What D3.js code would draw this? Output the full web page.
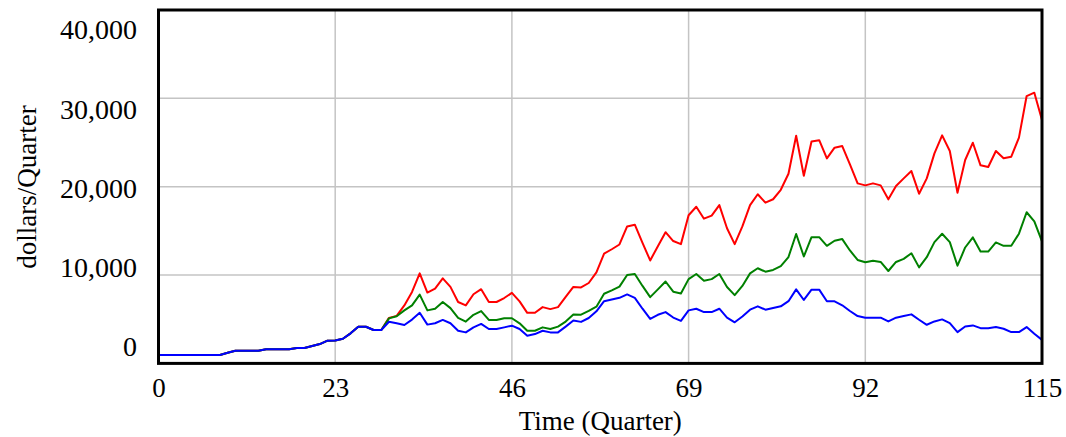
<!DOCTYPE html>
<html>
<head>
<meta charset="utf-8">
<script src="https://cdn.jsdelivr.net/npm/d3@7"></script>
<style>
  body { margin: 0; background: #fff; }
  text { font-family: "Liberation Serif", "Times New Roman", serif; }
</style>
</head>
<body>
<div id="chart"></div>
<script>
// quarters 0..115
const quarters = d3.range(0, 116);

// all three runs are identical until quarter 29
const early = [950, 950, 950, 950, 950, 950, 950, 950, 950, 1200,
    1430, 1430, 1430, 1430, 1590, 1590, 1590, 1590, 1740, 1740,
    1960, 2190, 2570, 2600, 2790, 3400, 4150, 4150, 3780, 3780];

const redValues = early.concat([
    5150, 5380, 6565, 8090, 10190, 8015, 8470, 9620, 8660, 6950,
    6565, 7825, 8400, 6950, 6950, 7400, 7980, 7020, 5725, 5725,
    6370, 6145, 6370, 7520, 8660, 8600, 9100, 10300,
    12420, 12920, 13460, 15500, 15700, 13650, 11650, 13270, 14850, 13850,
    13500, 16770, 17730, 16380, 16730, 17920, 15300, 13500, 15500, 17920,
    19150, 18190, 18580, 19650, 21460, 25770,
    21240, 25120, 25270, 23210, 24420, 24600, 22530, 20380, 20150, 20380,
    20150, 18570, 20080, 20940, 21770, 19210, 20940, 23770, 25810, 24040,
    19320, 23020, 24980, 22420, 22230, 24040, 23210, 23400, 25550, 30260,
    30640, 27550]);

const greenValues = early.concat([
    5100, 5340, 6000, 6565, 7790, 6000, 6180, 6950, 6260, 5150,
    4730, 5500, 5920, 4920, 4920, 5110, 5110, 4540, 3700, 3700,
    4080, 3890, 4160, 4730, 5530, 5520, 5940, 6420,
    7880, 8270, 8690, 10000, 10120, 8770, 7500, 8380, 9270, 8120,
    7920, 9540, 10120, 9350, 9540, 10120, 8650, 7730, 8770, 10190,
    10770, 10380, 10580, 11000, 12040, 14650,
    12100, 14290, 14290, 13310, 13880, 14070, 12780, 11710, 11440, 11630,
    11480, 10460, 11480, 11830, 12470, 10870, 12020, 13730, 14680, 13730,
    11060, 13120, 14260, 12660, 12660, 13690, 13310, 13310, 14680, 17110,
    16080, 13800]);

const blueValues = early.concat([
    4720, 4540, 4350, 4960, 5725, 4390, 4540, 4920, 4540, 3700,
    3510, 4080, 4470, 3890, 3890, 4080, 4270, 3890, 3130, 3320,
    3700, 3510, 3510, 4160, 4850, 4700, 5140, 5900,
    7040, 7230, 7420, 7810, 7420, 6190, 5040, 5500, 5810, 5190,
    4810, 6000, 6190, 5810, 5810, 6190, 5190, 4650, 5310, 6080,
    6460, 6080, 6270, 6460, 7040, 8380,
    7180, 8350, 8350, 7030, 7030, 6580, 5930, 5360, 5170, 5170,
    5170, 4750, 5170, 5360, 5550, 4940, 4370, 4750, 4980, 4560,
    3540, 4180, 4300, 3990, 3990, 4110, 3920, 3540, 3540, 4110,
    3350, 2660]);

const xTicks = [0, 23, 46, 69, 92, 115];
const yTicks = [0, 10000, 20000, 30000, 40000];

const width = 1066,
    height = 437;
const plot = {left: 158.5, right: 1042, top: 10, bottom: 363.4};

const svg = d3.select("#chart")
    .append("svg")
    .attr("width", width)
    .attr("height", height);

const xScale = d3.scaleLinear()
    .domain([0, 115])
    .range([plot.left, plot.right]);

const yScale = d3.scaleLinear()
    .domain([0, 40000])
    .range([plot.bottom, plot.top]);

// the value labels sit a bit inside the frame, like the original tool does
const yLabelScale = d3.scaleLinear()
    .domain([0, 40000])
    .range([347, 30]);

// grid
svg.append("g")
    .selectAll("line")
    .data(yTicks.slice(1, -1))
    .join("line")
    .attr("x1", plot.left)
    .attr("x2", plot.right)
    .attr("y1", d => yScale(d))
    .attr("y2", d => yScale(d))
    .attr("stroke", "#c4c4c4")
    .attr("stroke-width", 1.5);

svg.append("g")
    .selectAll("line")
    .data(xTicks.slice(1, -1))
    .join("line")
    .attr("x1", d => xScale(d))
    .attr("x2", d => xScale(d))
    .attr("y1", plot.top)
    .attr("y2", plot.bottom)
    .attr("stroke", "#c4c4c4")
    .attr("stroke-width", 1.5);

// lines
const line = d3.line()
    .x((d, i) => xScale(quarters[i]))
    .y(d => yScale(d));

const series = [
    {values: redValues, color: "#ff0000"},
    {values: greenValues, color: "#008000"},
    {values: blueValues, color: "#0000ff"}
];

series.forEach(s => {
    svg.append("path")
        .datum(s.values)
        .attr("fill", "none")
        .attr("stroke", s.color)
        .attr("stroke-width", 2)
        .attr("stroke-linejoin", "round")
        .attr("d", line);
});

// frame
svg.append("rect")
    .attr("x", plot.left)
    .attr("y", plot.top)
    .attr("width", plot.right - plot.left)
    .attr("height", plot.bottom - plot.top)
    .attr("fill", "none")
    .attr("stroke", "black")
    .attr("stroke-width", 3);

// x axis labels
const xAxis = svg.append("g")
    .attr("transform", `translate(0,${plot.bottom})`)
    .call(d3.axisBottom(xScale).tickValues(xTicks).tickFormat(d3.format("d"))
        .tickSize(0).tickPadding(14));
xAxis.select(".domain").remove();
xAxis.selectAll("text")
    .attr("font-family", "Liberation Serif")
    .attr("font-size", 27)
    .attr("fill", "black");

// y axis labels
const yAxis = svg.append("g")
    .attr("transform", "translate(137,0)")
    .call(d3.axisLeft(yLabelScale).tickValues(yTicks).tickFormat(d3.format(","))
        .tickSize(0).tickPadding(0));
yAxis.select(".domain").remove();
yAxis.selectAll("text")
    .attr("font-family", "Liberation Serif")
    .attr("font-size", 28)
    .attr("fill", "black");

// axis titles
svg.append("text")
    .attr("x", (plot.left + plot.right) / 2)
    .attr("y", 430)
    .attr("text-anchor", "middle")
    .attr("font-size", 27)
    .text("Time (Quarter)");

svg.append("text")
    .attr("transform", "translate(36,187) rotate(-90)")
    .attr("text-anchor", "middle")
    .attr("font-size", 27)
    .text("dollars/Quarter");
</script>
</body>
</html>
